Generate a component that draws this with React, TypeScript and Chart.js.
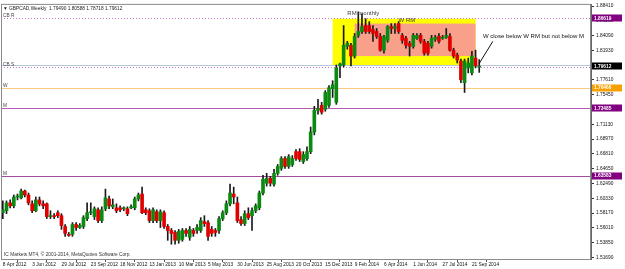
import React, { useEffect, useRef } from "react";
import { Chart, registerables } from "chart.js";

Chart.register(...registerables);

// ---------- DATA ----------
const firstWeek = { year: 2012, month: 3, day: 8 }; // 8 Apr 2012
const slotCount = 161; // weekly slots on the axis (includes right-side chart shift)
const monthNames = ["Jan", "Feb", "Mar", "Apr", "May", "Jun", "Jul", "Aug", "Sep", "Oct", "Nov", "Dec"];

const xTickLabels = [
  "8 Apr 2012", "3 Jun 2012", "29 Jul 2012", "23 Sep 2012", "18 Nov 2012", "13 Jan 2013",
  "10 Mar 2013", "5 May 2013", "30 Jun 2013", "25 Aug 2013", "20 Oct 2013", "15 Dec 2013",
  "9 Feb 2014", "6 Apr 2014", "1 Jun 2014", "27 Jul 2014", "21 Sep 2014",
];
const xTickEvery = 8;

const yTickValues = [
  1.5169, 1.5385, 1.5601, 1.5817, 1.6033, 1.6249, 1.6465, 1.6681, 1.6897,
  1.7113, 1.7329, 1.7545, 1.7761, 1.7977, 1.8193, 1.8409, 1.8625, 1.8841,
];
const yMin = 1.51462;
const yMax = 1.88578;

const opens = [
  1.5822, 1.5851, 1.5966, 1.5923, 1.6052, 1.6038, 1.6139, 1.6081, 1.5952, 1.5851,
  1.6009, 1.5952, 1.5952, 1.5765, 1.5779, 1.5822, 1.5779, 1.5621, 1.5506, 1.5506,
  1.5650, 1.5606, 1.5621, 1.5736, 1.5822, 1.5765, 1.5865, 1.5707, 1.5880, 1.6023,
  1.5908, 1.5894, 1.5894, 1.5880, 1.5880, 1.5894, 1.5894, 1.6023, 1.6095, 1.5865,
  1.5851, 1.5707, 1.5836, 1.5707, 1.5822, 1.5621, 1.5563, 1.5534, 1.5419, 1.5434,
  1.5563, 1.5463, 1.5563, 1.5563, 1.5563, 1.5693, 1.5678, 1.5578, 1.5563, 1.5563,
  1.5736, 1.5822, 1.5952, 1.6095, 1.5966, 1.5722, 1.5664, 1.5808, 1.5779, 1.5851,
  1.5894, 1.6110, 1.6254, 1.6326, 1.6239, 1.6398, 1.6470, 1.6614, 1.6498, 1.6527,
  1.6714, 1.6714, 1.6570, 1.6614, 1.6714, 1.7002, 1.7318, 1.7390, 1.7333, 1.7390,
  1.7635, 1.7434, 1.7966, 1.7980, 1.8253, 1.8268, 1.8110, 1.8412, 1.8469, 1.8556,
  1.8556, 1.8498, 1.8469, 1.8397, 1.8196, 1.8340, 1.8541, 1.8513, 1.8584, 1.8412,
  1.8368, 1.8297, 1.8253, 1.8368, 1.8412, 1.8325, 1.8297, 1.8253, 1.8354, 1.8397,
  1.8368, 1.8383, 1.8397, 1.8196, 1.8124, 1.8038, 1.7721, 1.7937, 1.7865, 1.8081,
  1.7949,
];
const highs = [
  1.5995, 1.5995, 1.6009, 1.6081, 1.6095, 1.6167, 1.6153, 1.6110, 1.5995, 1.6052,
  1.6052, 1.5995, 1.5966, 1.5851, 1.5808, 1.5851, 1.5808, 1.5650, 1.5534, 1.5678,
  1.5678, 1.5664, 1.5779, 1.5966, 1.5966, 1.5908, 1.5894, 1.5908, 1.6167, 1.6067,
  1.6023, 1.5952, 1.5923, 1.5908, 1.5908, 1.5937, 1.6052, 1.6110, 1.6196, 1.5894,
  1.5880, 1.5894, 1.5865, 1.5865, 1.5851, 1.5650, 1.5592, 1.5563, 1.5578, 1.5592,
  1.5592, 1.5621, 1.5592, 1.5650, 1.5750, 1.5779, 1.5707, 1.5621, 1.5592, 1.5765,
  1.5851, 1.5995, 1.6239, 1.6196, 1.6052, 1.5765, 1.5851, 1.5894, 1.5894, 1.5952,
  1.6139, 1.6369, 1.6398, 1.6354, 1.6455, 1.6527, 1.6642, 1.6642, 1.6671, 1.6657,
  1.6743, 1.6757, 1.6714, 1.6786, 1.7074, 1.7376, 1.7477, 1.7434, 1.7606, 1.7678,
  1.7750, 1.7980, 1.8009, 1.8556, 1.8325, 1.8297, 1.8440, 1.8757, 1.8728, 1.8656,
  1.8613, 1.8556, 1.8513, 1.8440, 1.8412, 1.8556, 1.8584, 1.8584, 1.8613, 1.8440,
  1.8397, 1.8325, 1.8440, 1.8440, 1.8440, 1.8354, 1.8325, 1.8412, 1.8412, 1.8440,
  1.8412, 1.8513, 1.8440, 1.8225, 1.8153, 1.8066, 1.8066, 1.8081, 1.8181, 1.8196,
  1.80588,
];
const lows = [
  1.5736, 1.5808, 1.5894, 1.5894, 1.6009, 1.6023, 1.6052, 1.5937, 1.5822, 1.5836,
  1.5923, 1.5880, 1.5736, 1.5736, 1.5736, 1.5750, 1.5578, 1.5477, 1.5477, 1.5477,
  1.5563, 1.5592, 1.5592, 1.5707, 1.5793, 1.5722, 1.5678, 1.5678, 1.5851, 1.5880,
  1.5880, 1.5822, 1.5836, 1.5851, 1.5779, 1.5880, 1.5865, 1.5995, 1.5808, 1.5793,
  1.5678, 1.5678, 1.5678, 1.5606, 1.5592, 1.5419, 1.5362, 1.5362, 1.5376, 1.5405,
  1.5477, 1.5419, 1.5477, 1.5520, 1.5534, 1.5621, 1.5419, 1.5477, 1.5477, 1.5520,
  1.5707, 1.5793, 1.5923, 1.5952, 1.5678, 1.5635, 1.5635, 1.5722, 1.5563, 1.5822,
  1.5865, 1.6081, 1.6211, 1.6211, 1.6211, 1.6369, 1.6441, 1.6470, 1.6470, 1.6498,
  1.6585, 1.6570, 1.6541, 1.6585, 1.6685, 1.6959, 1.7261, 1.7261, 1.7304, 1.7361,
  1.7506, 1.7405, 1.7793, 1.7951, 1.8210, 1.7966, 1.8081, 1.8383, 1.8440, 1.8440,
  1.8440, 1.8325, 1.8368, 1.8181, 1.8153, 1.8311, 1.8440, 1.8440, 1.8440, 1.8297,
  1.8225, 1.8110, 1.8225, 1.8354, 1.8297, 1.8124, 1.8124, 1.8225, 1.8325, 1.8297,
  1.8354, 1.8368, 1.8181, 1.8081, 1.8009, 1.7721, 1.7578, 1.7865, 1.7836, 1.7937,
  1.78718,
];
const closes = [
  1.5865, 1.5966, 1.5923, 1.6052, 1.6067, 1.6139, 1.6081, 1.5966, 1.5851, 1.6009,
  1.5952, 1.5923, 1.5765, 1.5779, 1.5765, 1.5779, 1.5635, 1.5520, 1.5491, 1.5650,
  1.5606, 1.5635, 1.5750, 1.5822, 1.5836, 1.5880, 1.5707, 1.5865, 1.6038, 1.5923,
  1.5937, 1.5851, 1.5865, 1.5894, 1.5808, 1.5908, 1.6023, 1.6081, 1.5822, 1.5822,
  1.5707, 1.5865, 1.5707, 1.5836, 1.5621, 1.5563, 1.5520, 1.5419, 1.5549, 1.5563,
  1.5520, 1.5578, 1.5520, 1.5606, 1.5707, 1.5664, 1.5477, 1.5520, 1.5534, 1.5736,
  1.5822, 1.5952, 1.6110, 1.6052, 1.5707, 1.5664, 1.5808, 1.5750, 1.5851, 1.5923,
  1.6110, 1.6311, 1.6326, 1.6254, 1.6398, 1.6498, 1.6614, 1.6498, 1.6642, 1.6614,
  1.6614, 1.6599, 1.6671, 1.6714, 1.7002, 1.7318, 1.7347, 1.7290, 1.7578, 1.7649,
  1.7692, 1.7937, 1.7994, 1.8268, 1.8297, 1.8110, 1.8397, 1.8469, 1.8541, 1.8469,
  1.8469, 1.8440, 1.8397, 1.8196, 1.8397, 1.8541, 1.8513, 1.8541, 1.8469, 1.8340,
  1.8268, 1.8253, 1.8412, 1.8412, 1.8325, 1.8153, 1.8153, 1.8368, 1.8383, 1.8325,
  1.8383, 1.8412, 1.8196, 1.8110, 1.8052, 1.7764, 1.8038, 1.8009, 1.8110, 1.7966,
  1.79612,
];

// Horizontal price-level lines (MT4 objects)
const levelLabels = ["CB R", "CB S", "W", "M", "M"];
const levelValues = [1.86619, 1.7955, 1.76466, 1.73485, 1.63583];
const bidPrice = 1.79612;

// Rectangles: [fromBar, toBar, topPrice, bottomPrice]
const zoneYellow = [90, 129, 1.8656, 1.798];
const zoneSalmon = [96, 129, 1.8585, 1.811];

// Text objects anchored at bar index / price
const noteTexts = ["RM monthly", "W RM", "W close below W RM but not below M"];
const noteBars = [94, 108, 131];
const notePrices = [1.8728, 1.8628, 1.8397];
// Trend line: [bar1, price1, bar2, price2]
const arrowLine = [133.7, 1.8325, 129.9, 1.7994];

const titleText = "\u25BC GBPCAD,Weekly  1.79490 1.80588 1.78718 1.79612";
const copyrightText = "IC Markets MT4, \u00A9 2001-2014, MetaQuotes Software Corp.";

// ---------- STYLES ----------
const FONT = "'Liberation Sans', Arial, sans-serif";
const SMALL = 4.8;
const UP = "#0b8a12";
const DOWN = "#e10000";
const levelStyles = [
  { color: "#c77ac7", dash: [1, 2], width: 1, box: "#800080" },
  { color: "#c77ac7", dash: [1, 2], width: 1, box: null },
  { color: "#fbc97c", dash: [], width: 1.2, box: "#f7a000" },
  { color: "#b45ab4", dash: [], width: 1.2, box: "#800080" },
  { color: "#a04ca0", dash: [], width: 1.2, box: "#800080" },
];

function buildCategories(): string[] {
  const out: string[] = [];
  const d = new Date(firstWeek.year, firstWeek.month, firstWeek.day);
  for (let i = 0; i < slotCount; i++) {
    out.push(`${d.getDate()} ${monthNames[d.getMonth()]} ${d.getFullYear()}`);
    d.setDate(d.getDate() + 7);
  }
  return out;
}

const overlayPlugin = {
  id: "mt4Overlay",
  beforeDatasetsDraw(chart: any) {
    const { ctx, chartArea: a, scales } = chart;
    const xs = scales.x, ys = scales.y;
    ctx.save();
    ctx.beginPath();
    ctx.rect(a.left, a.top, a.right - a.left, a.bottom - a.top);
    ctx.clip();
    // zones
    const drawZone = (z: number[], color: string) => {
      const x1 = xs.getPixelForValue(z[0]);
      const x2 = xs.getPixelForValue(z[1]);
      const y1 = ys.getPixelForValue(z[2]);
      const y2 = ys.getPixelForValue(z[3]);
      ctx.fillStyle = color;
      ctx.fillRect(x1, y1, x2 - x1, y2 - y1);
    };
    drawZone(zoneYellow, "#ffff00");
    drawZone(zoneSalmon, "#f9a08b");
    // bid line
    const by = Math.round(ys.getPixelForValue(bidPrice)) - 0.5;
    ctx.strokeStyle = "#b9c6da";
    ctx.lineWidth = 1;
    ctx.setLineDash([]);
    ctx.beginPath();
    ctx.moveTo(a.left, by);
    ctx.lineTo(a.right, by);
    ctx.stroke();
    // level lines
    levelValues.forEach((v, i) => {
      const st = levelStyles[i];
      const y = Math.round(ys.getPixelForValue(v)) + 0.5;
      ctx.strokeStyle = st.color;
      ctx.lineWidth = st.width;
      ctx.setLineDash(st.dash);
      ctx.beginPath();
      ctx.moveTo(a.left, y);
      ctx.lineTo(a.right, y);
      ctx.stroke();
    });
    ctx.setLineDash([]);
    ctx.restore();
  },
  afterDraw(chart: any) {
    const { ctx, chartArea: a, scales } = chart;
    const xs = scales.x, ys = scales.y;
    ctx.save();
    // border
    ctx.strokeStyle = "#8a8a8a";
    ctx.lineWidth = 1;
    ctx.strokeRect(a.left + 0.5, a.top - 0.5, a.right - a.left - 1, a.bottom - a.top + 1);

    ctx.textBaseline = "middle";
    ctx.textAlign = "left";
    // title
    ctx.fillStyle = "#222";
    ctx.font = `${SMALL}px ${FONT}`;
    ctx.fillText(titleText, a.left + 2, a.top + 4);
    // copyright
    ctx.fillStyle = "#333";
    ctx.fillText(copyrightText, a.left + 3, a.bottom - 4);
    // level labels at left
    ctx.textBaseline = "bottom";
    levelValues.forEach((v, i) => {
      const y = ys.getPixelForValue(v);
      ctx.fillStyle = "#444";
      ctx.fillText(levelLabels[i], a.left + 2, y);
    });
    // notes
    ctx.textBaseline = "middle";
    ctx.font = `6px ${FONT}`;
    noteTexts.forEach((t, i) => {
      ctx.fillStyle = i === 2 ? "#111" : "#3a3a3a";
      ctx.fillText(t, xs.getPixelForValue(noteBars[i]), ys.getPixelForValue(notePrices[i]));
    });
    // trend line
    ctx.strokeStyle = "#111";
    ctx.lineWidth = 1;
    ctx.beginPath();
    ctx.moveTo(xs.getPixelForValue(arrowLine[0]), ys.getPixelForValue(arrowLine[1]));
    ctx.lineTo(xs.getPixelForValue(arrowLine[2]), ys.getPixelForValue(arrowLine[3]));
    ctx.stroke();
    // price boxes on the right axis
    ctx.font = `bold ${SMALL}px ${FONT}`;
    const drawBox = (v: number, color: string) => {
      const y = ys.getPixelForValue(v);
      ctx.fillStyle = color;
      ctx.fillRect(a.right + 1, Math.round(y) - 3.5, 30, 7);
      ctx.fillStyle = "#fff";
      ctx.fillText(v.toFixed(5), a.right + 3, y);
    };
    levelValues.forEach((v, i) => {
      const st = levelStyles[i];
      if (st.box) drawBox(v, st.box);
    });
    drawBox(bidPrice, "#000");
    ctx.restore();
  },
};

export default function App() {
  const ref = useRef<HTMLCanvasElement | null>(null);
  useEffect(() => {
    document.body.style.margin = "0";
    const canvas = ref.current;
    if (!canvas) return;
    const categories = buildCategories();
    const wickData = lows.map((l, i) => [l, highs[i]]);
    const bodyData = opens.map((o, i) => [o, closes[i]]);
    const bodyColors = opens.map((o, i) => (closes[i] >= o ? UP : DOWN));
    const tickIndexLabel = new Map<number, string>();
    xTickLabels.forEach((t, k) => tickIndexLabel.set(k * xTickEvery, t));

    const chart = new Chart(canvas, {
      type: "bar",
      data: {
        labels: categories,
        datasets: [
          {
            label: "wick",
            data: wickData as any,
            backgroundColor: "#1a1a1a",
            barThickness: 1,
            grouped: false,
            order: 2,
          } as any,
          {
            label: "body",
            data: bodyData as any,
            backgroundColor: bodyColors,
            barThickness: 3,
            minBarLength: 1,
            grouped: false,
            order: 1,
          } as any,
        ],
      },
      options: {
        animation: false,
        responsive: false,
        devicePixelRatio: 1,
        layout: { padding: { left: 1, top: 1, right: 0, bottom: 0 } },
        plugins: { legend: { display: false }, tooltip: { enabled: false } },
        scales: {
          x: {
            type: "category",
            offset: true,
            grid: { display: true, drawOnChartArea: false, tickLength: 3, color: "#555" },
            border: { display: true, color: "#8a8a8a" },
            ticks: {
              autoSkip: false,
              maxRotation: 0,
              minRotation: 0,
              align: "start",
              padding: 0,
              color: "#111",
              font: { family: FONT, size: SMALL },
              callback: (v: any) => tickIndexLabel.get(Number(v)) ?? "",
            },
            afterBuildTicks: (scale: any) => {
              scale.ticks = Array.from(tickIndexLabel.keys()).map((v) => ({ value: v }));
            },
            afterFit: (scale: any) => {
              scale.height = 10;
            },
          } as any,
          y: {
            type: "linear",
            position: "right",
            min: yMin,
            max: yMax,
            grid: { display: true, drawOnChartArea: false, tickLength: 3, color: "#333" },
            border: { display: true, color: "#666" },
            ticks: {
              padding: 2,
              color: "#111",
              font: { family: FONT, size: SMALL },
              callback: (v: any) => Number(v).toFixed(5),
            },
            afterBuildTicks: (scale: any) => {
              scale.ticks = yTickValues.map((v) => ({ value: v }));
            },
            afterFit: (scale: any) => {
              scale.width = 34;
            },
          } as any,
        },
      },
      plugins: [overlayPlugin],
    });
    return () => chart.destroy();
  }, []);
  return (
    <div style={{ width: 625, height: 269, background: "#fff" }}>
      <canvas ref={ref} width={625} height={269} style={{ display: "block", width: 625, height: 269 }} />
    </div>
  );
}
